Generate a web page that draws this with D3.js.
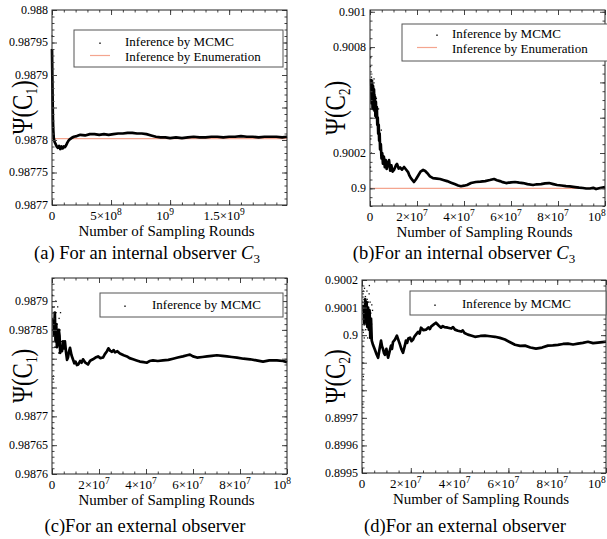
<!DOCTYPE html>
<html>
<head>
<meta charset="utf-8">
<script src="https://cdn.jsdelivr.net/npm/d3@7/dist/d3.min.js"></script>
<style>
  body { margin: 0; background: #fff; }
  svg { display: block; font-family: "Liberation Serif", "Times New Roman", serif; }
</style>
</head>
<body>
<svg id="chart" width="607" height="539"></svg>
<script>
// ---- panel (a): internal observer, C1 ----
const xTicksA = [0, 5e8, 1e9, 1.5e9];
const xLabelsA = ["0", "5×10^8", "10^9", "1.5×10^9"];
const yTicksA = [0.9877, 0.98775, 0.9878, 0.98785, 0.9879, 0.98795, 0.988];
const yLabelsA = ["0.9877", "0.98775", "0.9878", "", "0.9879", "0.98795", "0.988"];
const enumA = 0.987802;
const mcmcA = [
  [0, 0.98794], [2e6, 0.98791], [4e6, 0.98788], [6e6, 0.98785], [8e6, 0.98783],
  [1.1e7, 0.987815], [1.5e7, 0.987803], [2.2e7, 0.987797], [3e7, 0.987794], [4e7, 0.98779],
  [5e7, 0.987788], [6e7, 0.987791], [7e7, 0.987786], [8e7, 0.98779], [9e7, 0.987787],
  [1e8, 0.98779], [1.1e8, 0.987789], [1.2e8, 0.987792], [1.3e8, 0.987796], [1.4e8, 0.987799],
  [1.5e8, 0.987801], [1.65e8, 0.987803], [1.85e8, 0.987805], [2.1e8, 0.987806], [2.4e8, 0.987808],
  [2.8e8, 0.987807], [3.2e8, 0.987809], [3.6e8, 0.987809], [4e8, 0.987808], [4.4e8, 0.987809],
  [4.8e8, 0.987808], [5.2e8, 0.987809], [5.6e8, 0.98781], [6e8, 0.98781], [6.4e8, 0.987811],
  [6.8e8, 0.987811], [7.2e8, 0.98781], [7.6e8, 0.98781], [8e8, 0.987809], [8.4e8, 0.987807],
  [8.8e8, 0.987805], [9.2e8, 0.987804], [9.6e8, 0.987804], [1e9, 0.987803], [1.05e9, 0.987804],
  [1.1e9, 0.987803], [1.15e9, 0.987804], [1.2e9, 0.987805], [1.25e9, 0.987804], [1.3e9, 0.987804],
  [1.35e9, 0.987805], [1.4e9, 0.987805], [1.45e9, 0.987804], [1.5e9, 0.987805], [1.55e9, 0.987805],
  [1.6e9, 0.987806], [1.65e9, 0.987805], [1.7e9, 0.987805], [1.75e9, 0.987804], [1.8e9, 0.987805],
  [1.85e9, 0.987805], [1.9e9, 0.987805], [1.95e9, 0.987804], [1.99e9, 0.987805]
];
const samplesA = [
  [1e6, 0.98796], [1.5e6, 0.98792], [2.5e6, 0.98789], [3e6, 0.98786], [5e6, 0.98782]
];

// ---- panel (b): internal observer, C2 ----
const xTicksB = [0, 2e7, 4e7, 6e7, 8e7, 1e8];
const xLabelsB = ["0", "2×10^7", "4×10^7", "6×10^7", "8×10^7", "10^8"];
const yTicksB = [0.9, 0.9002, 0.9004, 0.9006, 0.9008, 0.901];
const yLabelsB = ["0.9", "0.9002", "", "", "0.9008", "0.901"];
const enumB = 0.9;
const mcmcB = [
  [5e5, 0.90062], [7e5, 0.90048], [9e5, 0.9006], [1.1e6, 0.90045], [1.3e6, 0.90058],
  [1.5e6, 0.90047], [1.7e6, 0.90056], [1.9e6, 0.90044], [2.1e6, 0.90052], [2.3e6, 0.90041],
  [2.5e6, 0.90049], [2.7e6, 0.9004], [2.9e6, 0.90046], [3.1e6, 0.90036], [3.3e6, 0.9004],
  [3.5e6, 0.90031], [3.7e6, 0.90036], [3.9e6, 0.90027], [4.1e6, 0.90031], [4.3e6, 0.90022],
  [4.6e6, 0.90025], [4.9e6, 0.90017], [5.2e6, 0.9002], [5.5e6, 0.90014], [5.9e6, 0.90018],
  [6.3e6, 0.90012], [6.7e6, 0.90016], [7.1e6, 0.90011], [7.6e6, 0.90014], [8.1e6, 0.90016],
  [8.6e6, 0.9001], [9.1e6, 0.90013], [9.6e6, 0.900095], [1.02e7, 0.900104], [1.07e7, 0.90012],
  [1.1e7, 0.90013], [1.15e7, 0.900138], [1.22e7, 0.900112], [1.28e7, 0.900118], [1.36e7, 0.900106],
  [1.45e7, 0.900121], [1.55e7, 0.900104], [1.62e7, 0.900092], [1.68e7, 0.900072], [1.74e7, 0.900058],
  [1.8e7, 0.900048], [1.87e7, 0.900036], [1.95e7, 0.90005], [2.04e7, 0.90007], [2.15e7, 0.900095],
  [2.26e7, 0.900104], [2.35e7, 0.900098], [2.43e7, 0.900087], [2.55e7, 0.900068], [2.68e7, 0.900058],
  [2.85e7, 0.900055], [2.98e7, 0.900053], [3.15e7, 0.900046], [3.28e7, 0.900041], [3.45e7, 0.900032],
  [3.6e7, 0.900024], [3.75e7, 0.900016], [3.87e7, 0.900012], [4e7, 0.900015], [4.13e7, 0.900019],
  [4.3e7, 0.90003], [4.5e7, 0.900036], [4.7e7, 0.900038], [4.9e7, 0.900041], [5.1e7, 0.900047],
  [5.28e7, 0.900053], [5.4e7, 0.900046], [5.53e7, 0.900041], [5.65e7, 0.900035], [5.79e7, 0.90003],
  [6e7, 0.900034], [6.17e7, 0.900036], [6.35e7, 0.900032], [6.51e7, 0.90003], [6.7e7, 0.900024],
  [6.94e7, 0.900019], [7.1e7, 0.900023], [7.28e7, 0.900024], [7.45e7, 0.900028], [7.62e7, 0.90003],
  [7.8e7, 0.900024], [7.96e7, 0.900019], [8.15e7, 0.900016], [8.34e7, 0.900013], [8.5e7, 0.900011],
  [8.72e7, 0.900007], [8.9e7, 0.900004], [9.06e7, 0.900002], [9.2e7, 0.899999], [9.36e7, 0.899999],
  [9.5e7, 0.900003], [9.62e7, 0.899996], [9.79e7, 0.900002], [1e8, 0.900007]
];
const samplesB = [
  [2e5, 0.90079], [3e5, 0.90074], [2e5, 0.90069], [4e5, 0.90066], [3e5, 0.90061],
  [6e5, 0.90063], [5e5, 0.90054], [8e5, 0.90057], [1.1e6, 0.90061], [1.3e6, 0.90049],
  [1.7e6, 0.90062], [2.1e6, 0.90053], [2.4e6, 0.90044], [2.7e6, 0.90051], [3.1e6, 0.90036],
  [3.6e6, 0.90045], [4.2e6, 0.90028], [4.8e6, 0.90033], [2e5, 0.90045], [4e5, 0.90036],
  [3e5, 0.90028], [6e5, 0.9002], [2e5, 0.90012]
];

// ---- panel (c): external observer, C1 ----
const xTicksC = [0, 2e7, 4e7, 6e7, 8e7, 1e8];
const xLabelsC = ["0", "2×10^7", "4×10^7", "6×10^7", "8×10^7", "10^8"];
const yTicksC = [0.9876, 0.98765, 0.9877, 0.98775, 0.9878, 0.98785, 0.9879];
const yLabelsC = ["0.9876", "0.98765", "0.9877", "", "", "0.98785", "0.9879"];
const mcmcC = [
  [6e5, 0.98787], [9e5, 0.98784], [1.2e6, 0.98788], [1.5e6, 0.98783], [1.8e6, 0.98786],
  [2.1e6, 0.98782], [2.55e6, 0.987828], [2.9e6, 0.98785], [3.2e6, 0.98784], [3.5e6, 0.98781],
  [3.8e6, 0.98782], [4.26e6, 0.987813], [4.7e6, 0.98783], [5.1e6, 0.987818], [5.5e6, 0.98783],
  [6e6, 0.98781], [6.4e6, 0.987798], [6.8e6, 0.987802], [7.2e6, 0.987812], [7.66e6, 0.987819],
  [8.3e6, 0.987806], [8.9e6, 0.987799], [9.5e6, 0.987792], [1e7, 0.987795], [1.06e7, 0.987789],
  [1.12e7, 0.98779], [1.2e7, 0.987796], [1.26e7, 0.987793], [1.32e7, 0.987799], [1.42e7, 0.987793],
  [1.53e7, 0.98779], [1.6e7, 0.987795], [1.64e7, 0.987797], [1.74e7, 0.987799], [1.85e7, 0.987802],
  [1.96e7, 0.987804], [2.06e7, 0.987801], [2.17e7, 0.987802], [2.25e7, 0.987808], [2.34e7, 0.987813],
  [2.4e7, 0.987818], [2.47e7, 0.987814], [2.55e7, 0.987812], [2.62e7, 0.987815], [2.68e7, 0.987811],
  [2.78e7, 0.987813], [2.89e7, 0.987809], [3.05e7, 0.987806], [3.19e7, 0.987804], [3.3e7, 0.987801],
  [3.45e7, 0.987799], [3.6e7, 0.987797], [3.74e7, 0.987795], [3.9e7, 0.987794], [4.04e7, 0.987793],
  [4.15e7, 0.987796], [4.3e7, 0.987797], [4.5e7, 0.987796], [4.72e7, 0.987797], [4.95e7, 0.987798],
  [5.15e7, 0.9878], [5.35e7, 0.987802], [5.57e7, 0.987804], [5.75e7, 0.987806], [5.87e7, 0.987807],
  [6e7, 0.987804], [6.17e7, 0.987802], [6.4e7, 0.987803], [6.6e7, 0.987804], [6.8e7, 0.987805],
  [7.02e7, 0.987806], [7.25e7, 0.987805], [7.45e7, 0.987804], [7.65e7, 0.987803], [7.87e7, 0.987802],
  [8.15e7, 0.9878], [8.43e7, 0.987799], [8.7e7, 0.987797], [8.98e7, 0.987795], [9.25e7, 0.987797],
  [9.57e7, 0.987797], [9.83e7, 0.987796], [1e8, 0.987794]
];
const samplesC = [
  [2e5, 0.98791], [3e5, 0.98789], [4e5, 0.98787], [2e5, 0.98785], [5e5, 0.98783],
  [3e5, 0.98781], [4e5, 0.98779], [6e5, 0.98777], [5e5, 0.987765], [8e5, 0.98788],
  [1e6, 0.98784], [1.2e6, 0.98787], [1.5e6, 0.98782], [1.8e6, 0.98785], [2.2e6, 0.98786],
  [2.8e6, 0.98781], [3.4e6, 0.98785], [4e6, 0.98783], [1.6e6, 0.9879], [2e5, 0.98774],
  [3e5, 0.98771], [2e5, 0.98768], [7e5, 0.98786], [9e5, 0.98789], [1.1e6, 0.98782],
  [1.3e6, 0.98785], [1.7e6, 0.98788], [2e6, 0.98783], [2.4e6, 0.98789], [2.6e6, 0.98784],
  [3e6, 0.98787], [3.2e6, 0.98782], [3.6e6, 0.98788]
];

// ---- panel (d): external observer, C2 ----
const xTicksD = [0, 2e7, 4e7, 6e7, 8e7, 1e8];
const xLabelsD = ["0", "2×10^7", "4×10^7", "6×10^7", "8×10^7", "10^8"];
const yTicksD = [0.8995, 0.8996, 0.8997, 0.8998, 0.8999, 0.9, 0.9001, 0.9002];
const yLabelsD = ["0.8995", "0.8996", "0.8997", "", "", "0.9", "0.9001", "0.9002"];
const mcmcD = [
  [6e5, 0.90011], [1e6, 0.90004], [1.3e6, 0.90013], [1.6e6, 0.90005], [1.9e6, 0.90012],
  [2.2e6, 0.90003], [2.5e6, 0.9001], [2.8e6, 0.90002], [3.1e6, 0.90009], [3.4e6, 0.89999],
  [3.7e6, 0.90006], [4e6, 0.89998], [4.5e6, 0.899965], [5.3e6, 0.899947], [6e6, 0.89993],
  [6.6e6, 0.899918], [7.2e6, 0.89995], [7.8e6, 0.89998], [8.2e6, 0.89996], [8.6e6, 0.89995],
  [9e6, 0.899935], [9.4e6, 0.899929], [1e7, 0.89995], [1.07e7, 0.899918], [1.13e7, 0.89994],
  [1.19e7, 0.899962], [1.23e7, 0.89995], [1.27e7, 0.899975], [1.35e7, 0.899984], [1.43e7, 0.899998],
  [1.5e7, 0.89998], [1.56e7, 0.899965], [1.62e7, 0.899948], [1.68e7, 0.899936], [1.75e7, 0.89996],
  [1.8e7, 0.89998], [1.85e7, 0.899972], [1.9e7, 0.899988], [1.97e7, 0.899991], [2.03e7, 0.899978],
  [2.09e7, 0.899984], [2.15e7, 0.899995], [2.21e7, 0.900002], [2.3e7, 0.900012], [2.36e7, 0.900006],
  [2.42e7, 0.900027], [2.52e7, 0.900018], [2.62e7, 0.90002], [2.72e7, 0.900028], [2.78e7, 0.900022],
  [2.83e7, 0.900031], [2.93e7, 0.900038], [3.03e7, 0.900045], [3.13e7, 0.900036], [3.24e7, 0.900027],
  [3.31e7, 0.900033], [3.38e7, 0.900029], [3.52e7, 0.900027], [3.66e7, 0.900024], [3.73e7, 0.900029],
  [3.81e7, 0.90002], [3.93e7, 0.900016], [4.06e7, 0.900013], [4.13e7, 0.900017], [4.2e7, 0.900008],
  [4.34e7, 0.900002], [4.5e7, 0.899998], [4.63e7, 0.899994], [4.85e7, 0.899997], [5.04e7, 0.899998],
  [5.25e7, 0.899996], [5.45e7, 0.899994], [5.65e7, 0.89999], [5.86e7, 0.899984], [6.05e7, 0.899975],
  [6.27e7, 0.899965], [6.48e7, 0.899961], [6.68e7, 0.899962], [6.9e7, 0.899955], [7.13e7, 0.899951],
  [7.38e7, 0.899955], [7.62e7, 0.899962], [7.82e7, 0.899963], [8.03e7, 0.899965], [8.24e7, 0.899968],
  [8.44e7, 0.899969], [8.65e7, 0.899966], [8.85e7, 0.899969], [9.05e7, 0.899972], [9.26e7, 0.899976],
  [9.47e7, 0.899971], [9.67e7, 0.899973], [9.85e7, 0.899975], [1e8, 0.899976]
];
const samplesD = [
  [2e5, 0.90018], [4e5, 0.90015], [3e5, 0.90012], [6e5, 0.90016], [5e5, 0.90009],
  [8e5, 0.90013], [1e6, 0.90017], [1.2e6, 0.90006], [1.4e6, 0.90014], [1.8e6, 0.9001],
  [2e6, 0.90016], [2.4e6, 0.90005], [2.6e6, 0.90012], [3e6, 0.90018], [3.2e6, 0.90003],
  [3.6e6, 0.90008], [4e6, 0.90011], [2e5, 0.90002], [4e5, 0.89996], [3e5, 0.8999],
  [5e5, 0.89985], [2e5, 0.8998], [3e5, 0.89975], [5e5, 0.90001], [7e5, 0.90007],
  [9e5, 0.89999], [1.1e6, 0.90011], [1.5e6, 0.90002], [1.7e6, 0.90008], [2.1e6, 0.90013],
  [2.3e6, 0.89999], [2.7e6, 0.90006], [2.9e6, 0.90015], [3.3e6, 0.90012], [3.5e6, 0.90001],
  [3.9e6, 0.90004], [4.3e6, 0.90009]
];

const legendNames = ["Inference by MCMC", "Inference by Enumeration"];

const panels = [
  { box: { left: 52, right: 287, top: 10, bottom: 205 }, xDomain: [0, 1.99e9], yDomain: [0.9877, 0.988],
    xMinor: 1e8, yMinor: 1e-5, xTicks: xTicksA, xLabels: xLabelsA, yTicks: yTicksA, yLabels: yLabelsA,
    mcmc: mcmcA, samples: samplesA, enumValue: enumA, yTitleX: 31.5, ySub: "1",
    legend: { x0: 74, x1: 283, y0: 30, y1: 67, textX: 125, base: [46, 60.5], dotX: 100, lineX: [90, 110] },
    caption: { x: 147, y: 259, text: "(a) For an internal observer ", sym: true } },
  { box: { left: 370, right: 605, top: 10, bottom: 206 }, xDomain: [0, 1e8], yDomain: [0.8999, 0.90101],
    xMinor: 5e6, yMinor: 5e-5, xTicks: xTicksB, xLabels: xLabelsB, yTicks: yTicksB, yLabels: yLabelsB,
    mcmc: mcmcB, samples: samplesB, enumValue: enumB, yTitleX: 345, ySub: "2",
    legend: { x0: 402, x1: 612, y0: 24, y1: 61, textX: 452, base: [38, 52.5], dotX: 437, lineX: [417, 437] },
    caption: { x: 464, y: 259, text: "(b)For an internal observer ", sym: true } },
  { box: { left: 52, right: 287, top: 278, bottom: 474 }, xDomain: [0, 1e8], yDomain: [0.9876, 0.98794],
    xMinor: 5e6, yMinor: 1e-5, xTicks: xTicksC, xLabels: xLabelsC, yTicks: yTicksC, yLabels: yLabelsC,
    mcmc: mcmcC, samples: samplesC, enumValue: null, yTitleX: 31.5, ySub: "1",
    legend: { x0: 100, x1: 283, y0: 293, y1: 317, textX: 152, base: [309], dotX: 125 },
    caption: { x: 145, y: 532, text: "(c)For an external observer", sym: false } },
  { box: { left: 362, right: 606, top: 280, bottom: 473 }, xDomain: [0, 1e8], yDomain: [0.8995, 0.9002],
    xMinor: 5e6, yMinor: 2e-5, xTicks: xTicksD, xLabels: xLabelsD, yTicks: yTicksD, yLabels: yLabelsD,
    mcmc: mcmcD, samples: samplesD, enumValue: null, yTitleX: 345, ySub: "2",
    legend: { x0: 410, x1: 606, y0: 291, y1: 315, textX: 462, base: [308], dotX: 435 },
    caption: { x: 465, y: 532, text: "(d)For an external observer", sym: false } }
];

const svg = d3.select("#chart");
svg.append("rect").attr("width", 607).attr("height", 539).attr("fill", "#fff");

const enumColor = "#f4a58f";

function addSup(textSel, label, supSize, shift) {
  const parts = label.split("^");
  textSel.append("tspan").text(parts[0]);
  if (parts.length > 1) {
    textSel.append("tspan").attr("font-size", supSize).attr("dy", shift).text(parts[1]);
  }
}

function drawPanel(p) {
  const b = p.box;
  const x = d3.scaleLinear().domain(p.xDomain).range([b.left, b.right]);
  const y = d3.scaleLinear().domain(p.yDomain).range([b.bottom, b.top]);
  const g = svg.append("g");

  const xMinorVals = d3.range(p.xDomain[0], p.xDomain[1] + p.xMinor * 0.01, p.xMinor);
  const yMinorVals = d3.range(p.yDomain[0], p.yDomain[1] + p.yMinor * 0.01, p.yMinor);

  // enumeration reference line
  if (p.enumValue !== null) {
    g.append("path")
      .datum(p.xDomain.map(v => [v, p.enumValue]))
      .attr("d", d3.line().x(d => x(d[0])).y(d => y(d[1])))
      .attr("stroke", enumColor).attr("stroke-width", 1.2).attr("fill", "none");
  }

  // early scattered samples
  g.selectAll(".sample")
    .data(p.samples)
    .enter().append("rect")
    .attr("x", d => x(d[0]) - 0.6)
    .attr("y", d => y(d[1]) - 0.6)
    .attr("width", 1.3).attr("height", 1.3)
    .attr("fill", "#111");

  // MCMC running estimate
  g.append("path")
    .datum(p.mcmc)
    .attr("d", d3.line().x(d => x(d[0])).y(d => y(d[1])))
    .attr("stroke", "#000").attr("stroke-width", 2.7)
    .attr("stroke-linejoin", "round").attr("fill", "none");

  // ticks on all four sides, pointing inward
  const minorLen = 2.5, majorLen = 5;
  const axes = [
    [d3.axisBottom(x), `translate(0,${b.bottom})`, xMinorVals, p.xTicks],
    [d3.axisTop(x), `translate(0,${b.top})`, xMinorVals, p.xTicks],
    [d3.axisLeft(y), `translate(${b.left},0)`, yMinorVals, p.yTicks],
    [d3.axisRight(y), `translate(${b.right},0)`, yMinorVals, p.yTicks]
  ];
  axes.forEach(([axis, tr, minor, major]) => {
    g.append("g").attr("transform", tr)
      .call(axis.tickValues(minor).tickSize(-minorLen).tickSizeOuter(0).tickFormat(""));
    g.append("g").attr("transform", tr)
      .call(axis.tickValues(major).tickSize(-majorLen).tickSizeOuter(0).tickFormat(""));
  });
  g.selectAll(".domain").remove();
  g.selectAll(".tick line").attr("stroke", "#444");
  g.selectAll(".tick text").remove();

  g.append("rect")
    .attr("x", b.left).attr("y", b.top)
    .attr("width", b.right - b.left).attr("height", b.bottom - b.top)
    .attr("fill", "none").attr("stroke", "#222").attr("stroke-width", 1);

  // x tick labels (pulled back inside the page if they would run off the right edge)
  p.xTicks.forEach((v, i) => {
    const t = g.append("text")
      .attr("x", x(v) + (v === 0 ? 0 : -5))
      .attr("y", b.bottom + 14.5)
      .attr("text-anchor", "middle")
      .attr("font-size", 13);
    addSup(t, p.xLabels[i], 9.5, -5);
    const bb = t.node().getBBox();
    const over = bb.x + bb.width - 606;
    if (over > 0) t.attr("x", +t.attr("x") - over);
  });

  // y tick labels
  p.yTicks.forEach((v, i) => {
    g.append("text")
      .attr("x", b.left - 4)
      .attr("y", y(v))
      .attr("dy", "0.33em")
      .attr("text-anchor", "end")
      .attr("font-size", 12)
      .text(p.yLabels[i]);
  });

  // axis titles
  g.append("text")
    .attr("x", (b.left + b.right) / 2 - 3)
    .attr("y", b.bottom + 30.5)
    .attr("text-anchor", "middle")
    .attr("font-size", 15)
    .text("Number of Sampling Rounds");

  const yt = g.append("text")
    .attr("transform", `translate(${p.yTitleX},${(b.top + b.bottom) / 2}) rotate(-90) scale(1,1.25)`)
    .attr("text-anchor", "middle")
    .attr("font-size", 23);
  yt.append("tspan").text("Ψ(C");
  yt.append("tspan").attr("font-size", 13).attr("dy", 4).text(p.ySub);
  yt.append("tspan").attr("dy", -4).text(")");

  // legend
  const L = p.legend;
  g.append("rect")
    .attr("x", L.x0).attr("y", L.y0)
    .attr("width", L.x1 - L.x0).attr("height", L.y1 - L.y0)
    .attr("fill", "#fff").attr("stroke", "#555").attr("stroke-width", 1);
  L.base.forEach((by, i) => {
    g.append("text")
      .attr("x", L.textX).attr("y", by)
      .attr("font-size", 13)
      .text(legendNames[i]);
  });
  g.append("rect")
    .attr("x", L.dotX - 0.7).attr("y", L.base[0] - 3.5)
    .attr("width", 1.4).attr("height", 1.4).attr("fill", "#000");
  if (L.lineX) {
    g.append("line")
      .attr("x1", L.lineX[0]).attr("x2", L.lineX[1])
      .attr("y1", L.base[1] - 5).attr("y2", L.base[1] - 5)
      .attr("stroke", enumColor).attr("stroke-width", 1.2);
  }

  // caption
  const c = p.caption;
  const ct = g.append("text")
    .attr("x", c.x).attr("y", c.y)
    .attr("text-anchor", "middle")
    .attr("font-size", 18.5);
  ct.append("tspan").text(c.text);
  if (c.sym) {
    ct.append("tspan").attr("font-style", "italic").text("C");
    ct.append("tspan").attr("font-size", 13).attr("dy", 4).text("3");
  }
}

panels.forEach(drawPanel);
</script>
</body>
</html>
